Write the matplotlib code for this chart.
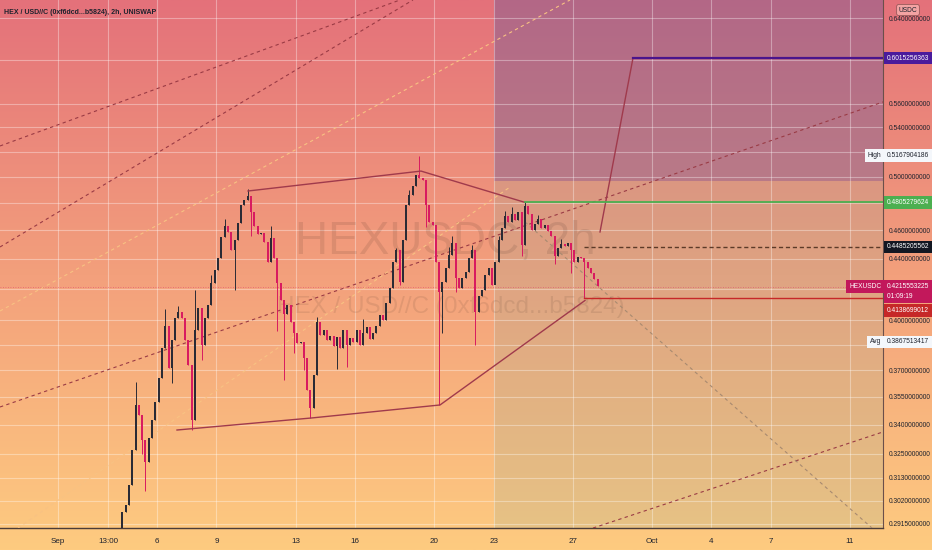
import matplotlib
matplotlib.use('Agg')
import matplotlib.pyplot as plt
from matplotlib.colors import LinearSegmentedColormap
from matplotlib.patches import Rectangle
import matplotlib.dates as mdates
import numpy as np
import pandas as pd

# ---------------- data ----------------
candle_start = '2021-09-04 06:00'
candle_step = '4h'
first_open = 0.2886
closes = [
    0.2969, 0.3001, 0.3096, 0.3269, 0.3506, 0.3452, 0.3320, 0.3209, 0.3330, 0.3425,
    0.3522, 0.3656, 0.3831, 0.3965, 0.3714, 0.3879, 0.4014, 0.4052, 0.4014, 0.3879,
    0.3731, 0.3425, 0.3940, 0.4077, 0.3849, 0.4014, 0.4096, 0.4239, 0.4325, 0.4407,
    0.4553, 0.4631, 0.4589, 0.4462, 0.4532, 0.4653, 0.4786, 0.4823, 0.4853, 0.4734,
    0.4631, 0.4575, 0.4582, 0.4518, 0.4380, 0.4546, 0.4407, 0.4239, 0.4128, 0.4039,
    0.4096, 0.3990, 0.3922, 0.3861, 0.3867, 0.3772, 0.3589, 0.3490, 0.3673, 0.3990,
    0.3910, 0.3940, 0.3879, 0.3903, 0.3843, 0.3897, 0.3831, 0.3940, 0.3849, 0.3891,
    0.3867, 0.3940, 0.3849, 0.3922, 0.3959, 0.3885, 0.3922, 0.3965, 0.4033, 0.4002,
    0.4109, 0.4206, 0.4380, 0.4462, 0.4246, 0.4532, 0.4786, 0.4861, 0.4930, 0.5015,
    0.4992, 0.4976, 0.4786, 0.4660, 0.4639, 0.4380, 0.4180, 0.4246, 0.4339, 0.4427,
    0.4511, 0.4272, 0.4206, 0.4272, 0.4312, 0.4407, 0.4462, 0.4052, 0.4154, 0.4193,
    0.4292, 0.4339, 0.4226, 0.4380, 0.4532, 0.4617, 0.4705, 0.4660, 0.4719, 0.4675,
    0.4734, 0.4497, 0.4779, 0.4719, 0.4603, 0.4646, 0.4682, 0.4617, 0.4639, 0.4596,
    0.4560, 0.4421, 0.4476, 0.4504, 0.4490, 0.4511, 0.4462, 0.4380, 0.4414, 0.4407,
    0.4380, 0.4339, 0.4305, 0.4265, 0.4216,
]
# wicks that stick out of the bodies (index -> price)
hi_wicks = {4: 0.3634, 13: 0.4070, 17: 0.4090, 22: 0.4193, 27: 0.4290, 31: 0.4680,
            38: 0.4907, 45: 0.4631, 59: 0.4020, 73: 0.4008, 83: 0.4477, 87: 0.4900,
            90: 0.5168, 99: 0.4480, 100: 0.4560, 106: 0.4500, 114: 0.4560, 116: 0.4740,
            118: 0.4770, 122: 0.4805, 126: 0.4710, 133: 0.4540, 137: 0.4430}
lo_wicks = {6: 0.3250, 7: 0.3067, 15: 0.3628, 21: 0.3372, 24: 0.3760, 34: 0.4193,
            39: 0.4560, 47: 0.3935, 49: 0.3645, 52: 0.3800, 55: 0.3700, 57: 0.3436,
            65: 0.3708, 68: 0.3720, 84: 0.4226, 92: 0.4622, 96: 0.3506, 97: 0.3922,
            101: 0.4180, 107: 0.3849, 113: 0.4290, 121: 0.4420, 131: 0.4363,
            136: 0.4305, 140: 0.41387}

# drawings: (time, price) pairs
top_line = [('2021-09-10 14:18', 0.4891), ('2021-09-19 08:00', 0.5045), ('2021-09-24 14:04', 0.4805)]
bottom_line = [('2021-09-07 00:14', 0.3372), ('2021-09-13 19:52', 0.3436),
               ('2021-09-20 07:02', 0.3506), ('2021-09-27 14:47', 0.4125)]
target_line = [('2021-09-28 08:59', 0.4589), ('2021-09-30 00:58', 0.6015256363)]
channel_dark = [
    [('2021-08-29 01:42', 0.5246), ('2021-09-18 06:33', 0.6584)],
    [('2021-08-29 01:42', 0.4483), ('2021-09-18 22:18', 0.6584)],
    [('2021-08-29 01:42', 0.3495), ('2021-10-12 16:00', 0.5618)],
    [('2021-09-28 00:29', 0.2895), ('2021-10-12 16:00', 0.3362)],
]
channel_light = [
    [('2021-08-29 01:42', 0.4058), ('2021-09-26 20:37', 0.6584)],
    [('2021-08-29 23:31', 0.2895), ('2021-09-23 19:52', 0.4921)],
]
channel_tan = [('2021-09-24 14:04', 0.4661), ('2021-10-12 02:40', 0.2895)]

target_price = 0.6015256363
high_price = 0.5167904186
green_price = 0.4805279624
black_price = 0.4485205562
last_price = 0.4215553225
low_price = 0.4138699012
avg_price = 0.3867513417
countdown = '01:09:19'
green_start = '2021-09-24 14:00'
level_start = '2021-09-27 14:00'
zone_start = '2021-09-23 00:00'
zone_split = 0.4970

xlim = ('2021-08-29 01:42', '2021-10-12 16:00')
ylim = (0.28952, 0.65836)
price_ticks = [0.64, 0.56, 0.54, 0.50, 0.46, 0.44, 0.40, 0.37, 0.355, 0.34, 0.325, 0.313, 0.302, 0.2915]
grid_prices = price_ticks + [0.60, 0.52, 0.48, 0.42, 0.385]
date_ticks = ['2021-09-01', '2021-09-03 13:00', '2021-09-06', '2021-09-09', '2021-09-13',
              '2021-09-16', '2021-09-20', '2021-09-23', '2021-09-27', '2021-10-01',
              '2021-10-04', '2021-10-07', '2021-10-11']
date_labels = ['Sep', '13:00', '6', '9', '13', '16', '20', '23', '27', 'Oct', '4', '7', '11']

# ---------------- style ----------------
FONT = 'Liberation Sans'
UP = '#2a2b35'
DOWN = '#d81b60'
TXT = '#1e222d'
LBL = 4.8

def T(s):
    return mdates.date2num(pd.Timestamp(s))

fig = plt.figure(figsize=(9.32, 5.5), dpi=100)

# background gradient over the whole picture
bg = fig.add_axes([0, 0, 1, 1], zorder=-5)
cmap = LinearSegmentedColormap.from_list('bg', [(0, '#fecb80'), (0.5, '#f3a07c'), (1, '#e4717a')])
bg.imshow(np.linspace(0, 1, 256).reshape(-1, 1), cmap=cmap, aspect='auto', origin='lower',
          extent=[0, 1, 0, 1])
bg.set_axis_off()

ax = fig.add_axes([0, 22 / 550, 883 / 932, 528 / 550])
ax.set_facecolor('none')
ax.set_yscale('log')
ax.set_xlim(T(xlim[0]), T(xlim[1]))
ax.set_ylim(*ylim)

# zones
x0, x1 = T(zone_start), T(xlim[1])
ax.add_patch(Rectangle((x0, zone_split), x1 - x0, 1.0 - zone_split, fc='#6a5a9a', alpha=0.4, ec='none', zorder=1))
ax.add_patch(Rectangle((x0, 0.2), x1 - x0, zone_split - 0.2, fc='#98b098', alpha=0.22, ec='none', zorder=1))

# grid
for p in grid_prices:
    ax.axhline(p, color='white', alpha=0.35, lw=0.8, zorder=1.5)
for d in date_ticks:
    ax.axvline(T(d), color='white', alpha=0.35, lw=0.8, zorder=1.5)

# watermark
ax.text(0.504, 0.542, 'HEXUSDC, 2h', transform=ax.transAxes, ha='center', va='center',
        fontsize=33, family=FONT, color='black', alpha=0.09, zorder=2)
ax.text(0.51, 0.419, 'HEX / USD//C (0xf6dcd...b5824)', transform=ax.transAxes, ha='center',
        va='center', fontsize=17.5, family=FONT, color='black', alpha=0.08, zorder=2)

# channel drawings
for seg in channel_dark:
    ax.plot([T(a) for a, _ in seg], [b for _, b in seg], ls=(0, (3, 3)), lw=0.8, color='#9a3b45', zorder=3)
for seg in channel_light:
    ax.plot([T(a) for a, _ in seg], [b for _, b in seg], ls=(0, (3, 3)), lw=0.8, color='#f8c283', zorder=3)
ax.plot([T(a) for a, _ in channel_tan], [b for _, b in channel_tan], ls=(0, (3, 3)), lw=0.8,
        color='#a88a70', zorder=3)

# candles
times = pd.date_range(candle_start, periods=len(closes), freq=candle_step)
tx = mdates.date2num(times)
opens = [first_open] + closes[:-1]
highs = [hi_wicks.get(i, max(o, c)) for i, (o, c) in enumerate(zip(opens, closes))]
lows = [lo_wicks.get(i, min(o, c)) for i, (o, c) in enumerate(zip(opens, closes))]
cols = [UP if c >= o else DOWN for o, c in zip(opens, closes)]
ax.vlines(tx, lows, highs, colors=cols, lw=0.7, zorder=4)
bot = [min(o, c) for o, c in zip(opens, closes)]
hgt = [max(abs(c - o), 0.0006) for o, c in zip(opens, closes)]
ax.bar(tx, hgt, bottom=bot, width=0.1, color=cols, lw=0, zorder=4)

# trend lines
for seg in (top_line, bottom_line, target_line):
    ax.plot([T(a) for a, _ in seg], [b for _, b in seg], lw=1.0, color='#a03a4c', zorder=5)

# horizontal levels
ax.plot([T(target_line[1][0]), x1], [target_price] * 2, color='#4a148c', lw=1.6, zorder=5)
ax.plot([T(green_start), x1], [green_price] * 2, color='#4caf50', lw=1.3, zorder=5)
ax.plot([T(level_start), x1], [black_price] * 2, color='#5d3a28', lw=1.0, ls=(0, (3, 2)), zorder=5)
ax.plot([T(level_start), x1], [low_price] * 2, color='#c62828', lw=1.0, zorder=5)
ax.axhline(last_price, color=DOWN, lw=0.6, ls=(0, (1, 2)), alpha=0.5, zorder=3)

# axes styling
for s in ('top', 'left'):
    ax.spines[s].set_visible(False)
ax.spines['right'].set_color('#6b4f4a')
ax.spines['right'].set_linewidth(0.8)
ax.spines['bottom'].set_color('#4a3c38')
ax.spines['bottom'].set_linewidth(1.0)
ax.yaxis.tick_right()
ax.yaxis.set_major_locator(matplotlib.ticker.FixedLocator(price_ticks))
ax.yaxis.set_minor_locator(matplotlib.ticker.NullLocator())
ax.set_yticklabels(['%.10f' % p for p in price_ticks])
ax.tick_params(axis='y', length=0, pad=4, labelsize=LBL, labelcolor=TXT)
for lab in ax.get_yticklabels():
    lab.set_family(FONT)
ax.set_xticks([T(d) for d in date_ticks])
ax.set_xticklabels(date_labels)
ax.xaxis.set_minor_locator(matplotlib.ticker.NullLocator())
ax.tick_params(axis='x', length=0, pad=7, labelsize=5.8, labelcolor=TXT)
for lab in ax.get_xticklabels():
    lab.set_family(FONT)

# title
ax.text(0.0045, 0.977, 'HEX / USD//C (0xf6dcd...b5824), 2h, UNISWAP', transform=ax.transAxes,
        ha='left', va='center', fontsize=5.0, family=FONT, color=TXT, fontweight='bold', zorder=6)

# price-scale labels
def scale_label(price, text, fc, tc='white'):
    ax.annotate(text, xy=(1.0045, price), xycoords=('axes fraction', 'data'), ha='left', va='center',
                fontsize=LBL, family=FONT, color=tc, annotation_clip=False, zorder=10,
                linespacing=1.6, bbox=dict(boxstyle='square,pad=0.4', fc=fc, ec='none'))

def side_tag(price, text, fc, tc):
    ax.annotate(text, xy=(0.998, price), xycoords=('axes fraction', 'data'), ha='right', va='center',
                fontsize=LBL, family=FONT, color=tc, annotation_clip=False, zorder=10,
                bbox=dict(boxstyle='square,pad=0.4', fc=fc, ec='none'))

scale_label(target_price, '%.10f' % target_price, '#4a1a9c')
scale_label(high_price, '%.10f' % high_price, '#f4f7fb', TXT)
side_tag(high_price, 'High', '#f4f7fb', TXT)
scale_label(green_price, '%.10f' % green_price, '#4caf50')
scale_label(black_price, '%.10f' % black_price, '#131722')
scale_label(0.4182, '%.10f\n%s           ' % (last_price, countdown), '#c2185b')
side_tag(last_price, 'HEXUSDC', '#c2185b', 'white')
scale_label(0.4062, '%.10f' % low_price, '#c62828')
scale_label(avg_price, '%.10f' % avg_price, '#f4f7fb', TXT)
side_tag(avg_price, 'Avg', '#f4f7fb', TXT)
fig.text(908 / 932, 1 - 10 / 550, 'USDC', ha='center', va='center', fontsize=LBL, family=FONT,
         color=TXT, zorder=10, bbox=dict(boxstyle='round,pad=0.3,rounding_size=0.3', fc='#f3a3a3', ec='#8a5050', lw=0.5))

fig.savefig('out.png', dpi=100)
